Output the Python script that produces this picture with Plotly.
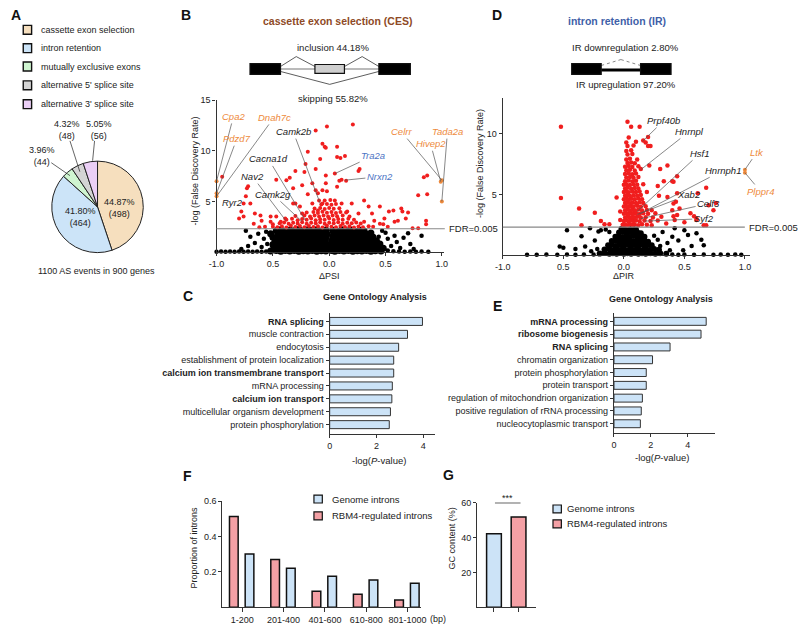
import plotly.graph_objects as go

W, H = 800, 627
FONT = "Liberation Sans, Arial, sans-serif"

# ---------------- data ----------------
pie_labels = ["cassette exon selection", "intron retention", "mutually exclusive exons",
              "alternative 5' splice site", "alternative 3' splice site"]
pie_counts = [498, 464, 44, 48, 56]
pie_pct = ["44.87%", "41.80%", "3.96%", "4.32%", "5.05%"]
pie_colors = ["#F6DFBE", "#CCE4F8", "#CFF5D0", "#D4D4D4", "#EBCFF6"]

go_ces_terms = ["RNA splicing", "muscle contraction", "endocytosis",
                "establishment of protein localization", "calcium ion transmembrane transport",
                "mRNA processing", "calcium ion transport",
                "multicellular organism development", "protein phosphorylation"]
go_ces_values = [3.97, 3.33, 2.95, 2.74, 2.74, 2.68, 2.66, 2.6, 2.55]
go_ces_bold = [True, False, False, False, True, False, True, False, False]

go_ir_terms = ["mRNA processing", "ribosome biogenesis", "RNA splicing",
               "chromatin organization", "protein phosphorylation", "protein transport",
               "regulation of mitochondrion organization",
               "positive regulation of rRNA processing", "nucleocytoplasmic transport"]
go_ir_values = [5.0, 4.72, 3.04, 2.09, 1.75, 1.75, 1.54, 1.48, 1.43]
go_ir_bold = [True, True, True, False, False, False, False, False, False]

length_bins = ["1-200", "201-400", "401-600", "610-800", "801-1000"]
rbm4_prop = [0.513, 0.27, 0.09, 0.073, 0.04]
genome_prop = [0.30, 0.22, 0.175, 0.153, 0.135]

gc_groups = ["Genome introns", "RBM4-regulated introns"]
gc_values = [42.3, 52.0]

# volcano CES (dPSI, -log FDR): dense non-significant core, sparse outliers, significant points
ces_black_core = [
    (-0.47, 2.1), (-0.43, 2.2), (-0.39, 2.05), (-0.35, 2.18), (-0.31, 2.1), (-0.27, 2.22), (-0.23, 2.08),
    (-0.19, 2.2), (-0.15, 2.12), (-0.11, 2.2), (-0.07, 2.06), (-0.03, 2.18), (0.03, 2.15), (0.07, 2.05),
    (0.11, 2.2), (0.15, 2.1), (0.19, 2.18), (0.23, 2.04), (0.27, 2.15), (0.31, 2.08),
    (-0.52, 1.8), (-0.45, 1.88), (-0.41, 1.75), (-0.37, 1.85), (-0.33, 1.78), (-0.29, 1.9), (-0.25, 1.76),
    (-0.21, 1.86), (-0.17, 1.8), (-0.13, 1.9), (-0.09, 1.74), (-0.05, 1.84), (-0.02, 1.78), (0.04, 1.86),
    (0.08, 1.76), (0.12, 1.88), (0.16, 1.8), (0.2, 1.9), (0.24, 1.75), (0.28, 1.85), (0.33, 1.78), (0.37, 1.88),
    (-0.5, 1.45), (-0.46, 1.52), (-0.42, 1.4), (-0.38, 1.5), (-0.34, 1.42), (-0.3, 1.55), (-0.26, 1.4),
    (-0.22, 1.5), (-0.18, 1.44), (-0.14, 1.54), (-0.1, 1.4), (-0.06, 1.48), (-0.03, 1.42), (0.03, 1.5),
    (0.06, 1.4), (0.1, 1.52), (0.14, 1.44), (0.18, 1.55), (0.22, 1.4), (0.26, 1.5), (0.3, 1.43), (0.34, 1.52),
    (0.39, 1.45),
    (-0.48, 1.1), (-0.44, 1.18), (-0.4, 1.05), (-0.36, 1.15), (-0.32, 1.08), (-0.28, 1.2), (-0.24, 1.05),
    (-0.2, 1.15), (-0.16, 1.1), (-0.12, 1.2), (-0.08, 1.05), (-0.04, 1.14), (0.02, 1.08), (0.05, 1.18),
    (0.09, 1.05), (0.13, 1.15), (0.17, 1.1), (0.21, 1.2), (0.25, 1.06), (0.29, 1.15), (0.33, 1.08),
    (0.37, 1.18), (0.42, 1.1),
    (-0.5, 0.75), (-0.46, 0.82), (-0.42, 0.7), (-0.38, 0.8), (-0.34, 0.72), (-0.3, 0.85), (-0.26, 0.7),
    (-0.22, 0.8), (-0.18, 0.74), (-0.14, 0.84), (-0.1, 0.7), (-0.06, 0.78), (-0.02, 0.72), (0.03, 0.8),
    (0.07, 0.7), (0.11, 0.82), (0.15, 0.74), (0.19, 0.85), (0.23, 0.7), (0.27, 0.8), (0.31, 0.73),
    (0.35, 0.82), (0.4, 0.75), (0.45, 0.8),
    (-0.49, 0.4), (-0.45, 0.48), (-0.41, 0.35), (-0.37, 0.45), (-0.33, 0.38), (-0.29, 0.5), (-0.25, 0.35),
    (-0.21, 0.45), (-0.17, 0.4), (-0.13, 0.5), (-0.09, 0.35), (-0.05, 0.44), (-0.02, 0.38), (0.02, 0.46),
    (0.06, 0.36), (0.1, 0.48), (0.14, 0.4), (0.18, 0.5), (0.22, 0.35), (0.26, 0.45), (0.3, 0.38),
    (0.34, 0.48), (0.38, 0.4), (0.43, 0.45), (0.48, 0.38),
    (-0.52, 0.1), (-0.47, 0.15), (-0.43, 0.08), (-0.39, 0.14), (-0.35, 0.1), (-0.31, 0.16), (-0.27, 0.08),
    (-0.23, 0.13), (-0.19, 0.1), (-0.15, 0.16), (-0.11, 0.08), (-0.07, 0.12), (-0.03, 0.1), (0.02, 0.14),
    (0.05, 0.08), (0.09, 0.15), (0.13, 0.1), (0.17, 0.16), (0.21, 0.08), (0.25, 0.13), (0.29, 0.1),
    (0.33, 0.15), (0.37, 0.08), (0.41, 0.12), (0.46, 0.1),
]
ces_black_sparse = [
    (0.52, 0.14), (0.57, 0.08),
    (-1.0, 0.03), (-0.96, 0.04), (-0.92, 0.03), (-0.88, 0.05), (-0.84, 0.03), (-0.8, 0.04), (-0.76, 0.03),
    (-0.72, 0.05), (-0.68, 0.03), (-0.64, 0.04), (-0.6, 0.03), (-0.56, 0.05), (0.62, 0.04), (0.67, 0.03),
    (0.72, 0.05), (0.77, 0.03), (0.82, 0.04), (0.88, 0.03),
    (-0.74, 2.1), (-0.7, 1.5), (-0.66, 0.9), (-0.63, 1.8), (-0.6, 0.5), (-0.58, 1.3), (-0.56, 2.0),
    (-0.55, 0.8), (-0.72, 0.6), (-0.78, 0.3), (0.5, 1.9), (0.52, 1.3), (0.55, 0.6), (0.58, 1.6), (0.6, 1.0),
    (0.63, 0.4), (0.66, 1.4), (0.7, 1.85), (0.72, 0.8), (0.82, 1.6), (0.75, 0.3), (0.47, 2.1), (0.44, 1.5),
]
ces_red = [
    (-0.5, 2.5), (-0.46, 2.45), (-0.42, 2.55), (-0.38, 2.42), (-0.34, 2.6), (-0.3, 2.48), (-0.26, 2.56),
    (-0.22, 2.44), (-0.18, 2.58), (-0.14, 2.46), (-0.1, 2.55), (-0.06, 2.43), (-0.02, 2.6), (0.02, 2.5),
    (0.06, 2.44), (0.1, 2.58), (0.14, 2.46), (0.18, 2.55), (0.22, 2.43), (0.26, 2.52), (0.3, 2.45), (0.35, 2.55),
    (-0.44, 2.85), (-0.4, 2.92), (-0.36, 2.8), (-0.32, 2.9), (-0.28, 2.82), (-0.24, 2.95), (-0.2, 2.8),
    (-0.16, 2.9), (-0.12, 2.84), (-0.08, 2.95), (-0.04, 2.8), (0.0, 2.9), (0.04, 2.83), (0.08, 2.94),
    (0.12, 2.8), (0.16, 2.9), (0.2, 2.84), (0.24, 2.92), (0.28, 2.82),
    (-0.38, 3.2), (-0.33, 3.28), (-0.28, 3.15), (-0.24, 3.25), (-0.2, 3.18), (-0.16, 3.3), (-0.12, 3.15),
    (-0.08, 3.24), (-0.04, 3.18), (0.0, 3.3), (0.04, 3.16), (0.08, 3.26), (0.12, 3.18), (0.17, 3.28), (0.22, 3.2),
    (-0.3, 3.55), (-0.22, 3.6), (-0.17, 3.5), (-0.13, 3.62), (-0.09, 3.52), (-0.05, 3.6), (-0.01, 3.5),
    (0.03, 3.62), (0.07, 3.54), (0.12, 3.6), (0.18, 3.52),
    (-0.2, 3.9), (-0.14, 3.95), (-0.1, 3.85), (-0.06, 3.98), (-0.02, 3.88), (0.02, 3.95), (0.06, 3.86),
    (0.1, 3.96), (0.15, 3.9),
    (-0.13, 4.3), (-0.08, 4.35), (-0.04, 4.25), (0.0, 4.36), (0.04, 4.28), (0.09, 4.32),
    (-0.07, 4.7), (-0.02, 4.75), (0.02, 4.68), (0.06, 4.75), (-0.04, 5.1), (0.01, 5.15),
    (0.21, 12.6), (-0.02, 12.4), (-0.12, 12.0), (-0.06, 10.7), (-0.04, 10.4), (-0.03, 10.3), (0.07, 10.4),
    (0.07, 9.4), (0.1, 9.3), (0.14, 9.5), (-0.19, 9.9), (-0.08, 9.2), (-0.21, 8.7), (-0.3, 8.0),
    (0.05, 7.75), (0.26, 8.0), (0.27, 8.2), (0.15, 7.05), (0.09, 7.05), (0.11, 7.15), (-0.03, 7.55),
    (-0.03, 6.8), (-0.38, 7.1), (-0.47, 7.15), (-0.35, 7.35), (-0.22, 7.9), (-0.12, 8.2), (-0.72, 6.5),
    (-0.95, 7.45), (-0.06, 6.1), (-0.12, 6.1), (-0.15, 6.8), (-0.24, 6.6), (-0.32, 6.3), (-0.02, 6.0),
    (0.07, 6.45), (-0.19, 5.7), (-0.1, 5.8), (0.05, 5.1), (0.11, 4.8), (0.2, 4.8), (0.16, 4.0), (0.26, 3.8),
    (0.31, 3.0), (0.31, 5.1), (0.35, 4.5), (0.45, 4.5), (0.53, 4.0), (0.57, 4.1), (0.64, 4.3), (0.65, 4.0),
    (0.7, 3.9), (0.38, 3.8), (0.49, 3.3), (0.48, 2.75), (0.39, 2.5), (0.61, 3.1), (0.68, 3.3), (0.58, 3.0),
    (0.74, 2.35), (0.79, 2.35), (0.86, 3.1), (0.86, 2.75), (0.79, 5.6), (0.87, 5.7), (0.84, 7.4), (0.87, 7.55),
    (0.4, 3.1), (0.45, 2.8), (0.52, 2.5),
    (-0.73, 6.3), (-0.74, 5.5), (-0.76, 4.8), (-0.7, 4.8), (-0.78, 4.0), (-0.8, 3.3), (-0.76, 3.5),
    (-0.66, 3.8), (-0.61, 3.6), (-0.6, 3.1), (-0.52, 3.5), (-0.52, 3.0), (-0.47, 3.5), (-0.43, 3.0),
    (-0.67, 2.8), (-0.57, 2.5), (-0.5, 2.75), (-0.62, 2.45), (-0.32, 4.8), (-0.3, 4.8), (-0.26, 4.5),
    (-0.24, 3.8), (-0.39, 3.3), (-0.15, 4.8), (-0.09, 5.1), (-0.06, 4.8), (-0.1, 4.1),
]
ces_orange = [(-1.0, 7.0), (-1.0, 5.8), (-1.0, 5.5), (1.0, 7.1), (0.99, 6.95), (1.0, 5.0)]

# volcano IR (dPIR, -log FDR)
ir_black_core = [
    (-0.02, 2.15), (0.01, 2.2), (0.04, 2.12), (0.07, 2.2), (0.1, 2.1),
    (-0.04, 1.85), (-0.01, 1.9), (0.02, 1.8), (0.05, 1.9), (0.08, 1.82), (0.11, 1.88), (0.14, 1.8),
    (-0.07, 1.5), (-0.04, 1.55), (-0.01, 1.45), (0.02, 1.55), (0.05, 1.48), (0.08, 1.56), (0.11, 1.46),
    (0.14, 1.54), (0.17, 1.5),
    (-0.1, 1.15), (-0.07, 1.2), (-0.04, 1.1), (-0.01, 1.2), (0.02, 1.12), (0.05, 1.2), (0.08, 1.1),
    (0.11, 1.18), (0.14, 1.12), (0.17, 1.2), (0.2, 1.1),
    (-0.13, 0.8), (-0.1, 0.85), (-0.07, 0.75), (-0.04, 0.85), (-0.01, 0.78), (0.02, 0.86), (0.05, 0.76),
    (0.08, 0.84), (0.11, 0.78), (0.14, 0.86), (0.17, 0.76), (0.2, 0.84), (0.23, 0.8),
    (-0.16, 0.45), (-0.12, 0.5), (-0.09, 0.4), (-0.06, 0.5), (-0.03, 0.42), (0.0, 0.5), (0.03, 0.4),
    (0.06, 0.48), (0.09, 0.42), (0.12, 0.5), (0.15, 0.4), (0.18, 0.48), (0.21, 0.42), (0.25, 0.5), (0.29, 0.44),
    (-0.2, 0.12), (-0.16, 0.16), (-0.12, 0.1), (-0.09, 0.15), (-0.06, 0.1), (-0.03, 0.16), (0.0, 0.1),
    (0.03, 0.15), (0.06, 0.1), (0.09, 0.16), (0.12, 0.1), (0.15, 0.14), (0.18, 0.1), (0.22, 0.15),
    (0.26, 0.1), (0.3, 0.14), (0.35, 0.1),
]
ir_black_sparse = [
    (-0.47, 2.05), (-0.53, 0.7), (-0.5, 0.6), (-0.4, 0.5), (-0.35, 1.55), (-0.28, 2.2), (-0.32, 0.7),
    (-0.24, 1.2), (-0.21, 1.95), (-0.19, 2.05), (-0.27, 0.3), (-0.22, 0.5), (0.42, 2.2), (0.5, 2.05),
    (0.53, 1.65), (0.6, 1.8), (0.64, 1.25), (0.66, 0.8), (0.56, 0.75), (0.49, 0.4), (0.36, 1.0), (0.38, 0.4),
    (0.28, 1.25), (0.3, 0.75), (0.22, 0.8), (0.25, 1.6), (0.32, 1.9), (0.45, 1.2), (0.4, 1.5), (-0.12, 1.9),
    (-0.15, 2.1), (-0.8, 0.03), (-0.72, 0.03), (-0.64, 0.04), (-0.55, 0.03), (-0.47, 0.04), (-0.4, 0.03),
    (-0.33, 0.05), (-0.25, 0.04), (0.4, 0.05), (0.45, 0.03), (0.5, 0.04), (0.58, 0.03), (0.66, 0.04),
    (0.74, 0.03), (0.8, 0.04), (0.86, 0.03), (0.92, 0.04), (0.97, 0.03),
]
ir_red = [
    (0.01, 2.5), (0.03, 2.45), (0.05, 2.55), (0.07, 2.48), (0.09, 2.52), (0.12, 2.45), (0.15, 2.55), (0.19, 2.5),
    (0.23, 2.46), (0.0, 2.8), (0.02, 2.85), (0.04, 2.78), (0.06, 2.84), (0.08, 2.8), (0.1, 2.86), (0.13, 2.78),
    (0.17, 2.84), (0.22, 2.8), (0.28, 2.85), (0.01, 3.1), (0.03, 3.15), (0.05, 3.08), (0.07, 3.14), (0.09, 3.1),
    (0.11, 3.16), (0.14, 3.08), (0.18, 3.12), (0.24, 3.1), (0.31, 3.15), (0.0, 3.4), (0.02, 3.45), (0.04, 3.38),
    (0.06, 3.44), (0.08, 3.4), (0.1, 3.46), (0.13, 3.38), (0.16, 3.44), (0.2, 3.4), (0.26, 3.45),
    (0.01, 3.7), (0.03, 3.75), (0.05, 3.68), (0.07, 3.74), (0.09, 3.7), (0.12, 3.76), (0.15, 3.68),
    (0.19, 3.72), (0.23, 3.7), (0.0, 4.0), (0.02, 4.05), (0.04, 3.98), (0.06, 4.04), (0.08, 4.0), (0.11, 4.06),
    (0.14, 3.98), (0.18, 4.02), (0.01, 4.3), (0.03, 4.35), (0.05, 4.28), (0.07, 4.34), (0.1, 4.3), (0.13, 4.36),
    (0.16, 4.3), (0.0, 4.6), (0.02, 4.65), (0.04, 4.58), (0.06, 4.64), (0.09, 4.6), (0.12, 4.66), (0.15, 4.6),
    (0.01, 4.9), (0.03, 4.95), (0.05, 4.88), (0.08, 4.94), (0.11, 4.9), (0.14, 4.95), (0.0, 5.2), (0.02, 5.25),
    (0.04, 5.18), (0.07, 5.24), (0.1, 5.2), (0.13, 5.25), (0.19, 5.2), (0.01, 5.5), (0.03, 5.55), (0.06, 5.48),
    (0.09, 5.54), (0.12, 5.5), (0.0, 5.8), (0.02, 5.85), (0.05, 5.78), (0.08, 5.84), (0.11, 5.8), (0.16, 5.85),
    (0.01, 6.1), (0.04, 6.15), (0.07, 6.08), (0.1, 6.14), (0.02, 6.4), (0.05, 6.45), (0.08, 6.38), (0.12, 6.44),
    (0.01, 6.7), (0.04, 6.75), (0.07, 6.68), (0.1, 6.74), (0.02, 7.0), (0.05, 7.05), (0.09, 6.98),
    (0.01, 7.3), (0.04, 7.35), (0.07, 7.28), (0.12, 7.34), (0.03, 7.6), (0.06, 7.65), (0.09, 7.58),
    (0.02, 7.9), (0.05, 7.95), (0.11, 7.9), (0.03, 8.3), (0.07, 8.35), (0.02, 8.6), (0.06, 8.65),
    (0.03, 9.0), (0.08, 9.05), (0.02, 9.3), (0.1, 9.35), (0.04, 9.7),
    (0.03, 11.0), (0.06, 10.6), (0.13, 10.6), (0.16, 9.45), (0.18, 9.3), (0.2, 9.0), (0.22, 9.0), (0.2, 9.75),
    (0.14, 7.1), (0.21, 7.4), (0.36, 7.4), (0.44, 6.5), (0.4, 6.1), (0.33, 6.1), (0.28, 5.7), (0.29, 4.9),
    (0.36, 4.8), (0.41, 4.25), (0.44, 5.1), (0.4, 3.7), (0.46, 3.85), (0.44, 3.3), (0.42, 2.9), (0.55, 3.45),
    (0.58, 3.2), (0.6, 3.0), (0.66, 2.45), (0.68, 5.55), (0.61, 5.1), (0.7, 4.1), (0.76, 4.3), (0.74, 3.7),
    (0.6, 2.9), (0.68, 2.45), (0.43, 4.4), (0.41, 6.05), (0.3, 7.1), (0.41, 3.2), (0.35, 2.6), (0.5, 2.7),
    (-0.52, 10.6), (-0.52, 4.7), (-0.37, 3.85), (-0.24, 3.5), (-0.35, 2.45), (-0.19, 2.8), (-0.16, 2.55),
    (-0.12, 2.55), (-0.06, 4.75), (-0.03, 3.6), (-0.03, 2.9), (-0.01, 2.5),
]
ir_orange = [(1.0, 7.05), (1.0, 6.8)]

# gene labels: name, point x, point y, label x, label y, colour
ces_genes = [
    ("Cpa2", -1.0, 7.0, -0.85, 13.4, "#EE8A3C"),
    ("Pdzd7", -1.0, 5.8, -0.82, 11.2, "#EE8A3C"),
    ("Dnah7c", -1.0, 5.5, -0.49, 13.3, "#EE8A3C"),
    ("Nav2", -0.385, 3.1, -0.68, 7.45, "#222222"),
    ("Cacna1d", -0.21, 3.1, -0.54, 9.2, "#222222"),
    ("Camk2g", -0.24, 3.0, -0.5, 5.7, "#222222"),
    ("Camk2b", -0.08, 4.8, -0.32, 11.9, "#222222"),
    ("Tra2a", 0.05, 7.75, 0.39, 9.5, "#4D74C4"),
    ("Nrxn2", 0.14, 7.1, 0.45, 7.45, "#4D74C4"),
    ("Celrr", 1.0, 7.1, 0.64, 11.9, "#EE8A3C"),
    ("Hivep2", 0.99, 6.95, 0.9, 10.7, "#EE8A3C"),
    ("Tada2a", 1.0, 5.0, 1.05, 11.9, "#EE8A3C"),
]
ir_genes = [
    ("Prpf40b", 0.155, 9.4, 0.33, 11.1, "#222222"),
    ("Hnrnpl", 0.14, 7.05, 0.54, 10.2, "#222222"),
    ("Hsf1", 0.11, 3.6, 0.63, 8.4, "#222222"),
    ("Hnrnph1", 0.13, 3.4, 0.82, 7.0, "#222222"),
    ("Xab2", 0.11, 3.35, 0.54, 5.0, "#222222"),
    ("Celf3", 0.14, 3.0, 0.7, 4.25, "#222222"),
    ("Syf2", 0.17, 2.8, 0.66, 3.0, "#222222"),
    ("Ltk", 1.0, 7.05, 1.1, 8.5, "#EE8A3C"),
    ("Plppr4", 1.0, 6.8, 1.13, 5.25, "#EE8A3C"),
]
fdr_cut = 2.3

BLUE = "#CCE3F7"
PINK = "#F4A0A5"


def px(x):
    return x / W


def py(y):
    return 1 - y / H


def xs(pts):
    return [p[0] for p in pts]


def ys(pts):
    return [p[1] for p in pts]


fig = go.Figure()

# A: pie
fig.add_trace(go.Pie(
    values=pie_counts, labels=pie_labels, sort=False, direction="clockwise", rotation=0,
    marker=dict(colors=pie_colors, line=dict(color="#222", width=1)),
    textinfo="none", hoverinfo="skip", showlegend=False,
    domain=dict(x=[px(44.5), px(137.5)], y=[py(250), py(157)]),
))

# B / D volcano plots
for pts, col, size, ax in [
    (ces_black_core, "#000000", 7, "x"), (ces_black_sparse, "#000000", 4.5, "x"),
    (ces_red, "#F01E1E", 4, "x"), (ces_orange, "#EE8A3C", 4, "x"),
    (ir_black_core, "#000000", 6, "x2"), (ir_black_sparse, "#000000", 4.5, "x2"),
    (ir_red, "#F01E1E", 4.5, "x2"), (ir_orange, "#EE8A3C", 4, "x2"),
]:
    fig.add_trace(go.Scatter(
        x=xs(pts), y=ys(pts), mode="markers", cliponaxis=False, hoverinfo="skip", showlegend=False,
        marker=dict(color=col, size=size, line=dict(width=0)),
        xaxis=ax, yaxis="y" if ax == "x" else "y2",
    ))

# C / E GO bars
fig.add_trace(go.Bar(
    x=go_ces_values, y=go_ces_terms, orientation="h", width=0.62,
    marker=dict(color=BLUE, line=dict(color="#333", width=1)),
    xaxis="x3", yaxis="y3", showlegend=False, hoverinfo="skip",
))
fig.add_trace(go.Bar(
    x=go_ir_values, y=go_ir_terms, orientation="h", width=0.62,
    marker=dict(color=BLUE, line=dict(color="#333", width=1)),
    xaxis="x4", yaxis="y4", showlegend=False, hoverinfo="skip",
))

# F intron length
fig.add_trace(go.Bar(
    x=length_bins, y=rbm4_prop, offset=-0.31, width=0.21,
    marker=dict(color=PINK, line=dict(color="#111", width=1.5)),
    xaxis="x5", yaxis="y5", showlegend=False, hoverinfo="skip",
))
fig.add_trace(go.Bar(
    x=length_bins, y=genome_prop, offset=0.07, width=0.21,
    marker=dict(color=BLUE, line=dict(color="#111", width=1.5)),
    xaxis="x5", yaxis="y5", showlegend=False, hoverinfo="skip",
))

# G GC content
fig.add_trace(go.Bar(
    x=gc_groups, y=gc_values, width=0.6,
    marker=dict(color=[BLUE, PINK], line=dict(color="#111", width=1.5)),
    xaxis="x6", yaxis="y6", showlegend=False, hoverinfo="skip",
))

axis_style = dict(showline=True, linecolor="#333", linewidth=1.3, ticks="outside", ticklen=3,
                  tickcolor="#333", showgrid=False, zeroline=False,
                  tickfont=dict(size=9, color="#222", family=FONT))

ces_ticktext = [f"<b>{t}</b>" if b else t for t, b in zip(go_ces_terms, go_ces_bold)]
ir_ticktext = [f"<b>{t}</b>" if b else t for t, b in zip(go_ir_terms, go_ir_bold)]

fig.update_layout(
    width=W, height=H, autosize=False, margin=dict(l=0, r=0, t=0, b=0),
    paper_bgcolor="white", plot_bgcolor="white", font=dict(family=FONT, size=9, color="#222"),
    barmode="overlay", hovermode=False,
    xaxis=dict(axis_style, domain=[px(212), px(443.3)], range=[-1.0, 1.02], anchor="y",
               tickvals=[-1, -0.5, 0, 0.5, 1], ticktext=["-1.0", "0.5", "0.0", "0.5", "1.0"]),
    yaxis=dict(axis_style, domain=[py(249), py(96)], range=[0, 15], anchor="x", tickvals=[5, 10, 15]),
    xaxis2=dict(axis_style, domain=[px(503), px(754)], range=[-1.0, 1.04], anchor="y2",
                tickvals=[-1, -0.5, 0, 0.5, 1], ticktext=["-1.0", "0.5", "0.0", "0.5", "1.0"]),
    yaxis2=dict(axis_style, domain=[py(252), py(93.4)], range=[0, 13], anchor="x2", tickvals=[5, 10]),
    xaxis3=dict(axis_style, domain=[px(327), px(433.9)], range=[0, 4.5], anchor="y3", tickvals=[0, 2, 4]),
    yaxis3=dict(axis_style, domain=[py(432), py(310)], range=[8.69, -0.69], anchor="x3",
                type="category", categoryarray=go_ces_terms, tickvals=go_ces_terms, ticktext=ces_ticktext),
    xaxis4=dict(axis_style, domain=[px(616), px(719.1)], range=[0, 5.5], anchor="y4", tickvals=[0, 2, 4]),
    yaxis4=dict(axis_style, domain=[py(431), py(310)], range=[8.69, -0.69], anchor="x4",
                type="category", categoryarray=go_ir_terms, tickvals=go_ir_terms, ticktext=ir_ticktext),
    xaxis5=dict(axis_style, domain=[px(218), px(420)], range=[-0.48, 4.33], anchor="y5",
                type="category", categoryarray=length_bins, ticklen=4),
    yaxis5=dict(axis_style, domain=[py(607), py(500)], range=[0, 0.6], anchor="x5",
                tickvals=[0.2, 0.4, 0.6], ticktext=["0.2", "0.4", "0.6"]),
    xaxis6=dict(axis_style, domain=[px(477), px(537)], range=[-0.68, 1.72], anchor="y6",
                type="category", categoryarray=gc_groups, showticklabels=False, ticklen=4),
    yaxis6=dict(axis_style, domain=[py(607), py(502)], range=[0, 60], anchor="x6", tickvals=[20, 40, 60]),
)

ann = []
shapes = []


def text(x, y, s, size=9, color="#222", xanchor="center", angle=0, bold=False):
    if bold:
        s = f"<b>{s}</b>"
    ann.append(dict(x=px(x), y=py(y), xref="paper", yref="paper", text=s, showarrow=False,
                    xanchor=xanchor, yanchor="middle", textangle=angle,
                    font=dict(size=size, color=color, family=FONT)))


def line(x0, y0, x1, y1, color="#222", width=1, dash=None):
    shapes.append(dict(type="line", xref="paper", yref="paper", x0=px(x0), y0=py(y0), x1=px(x1), y1=py(y1),
                       line=dict(color=color, width=width, dash=dash)))


def rect(x0, y0, x1, y1, fill, color="#111", width=1.2):
    shapes.append(dict(type="rect", xref="paper", yref="paper", x0=px(x0), y0=py(y0), x1=px(x1), y1=py(y1),
                       fillcolor=fill, line=dict(color=color, width=width)))


# panel letters
for letter, x, y in [("A", 8, 10), ("B", 181, 10), ("D", 497, 10), ("C", 183, 293),
                     ("E", 498, 303), ("F", 182, 475), ("G", 448, 474)]:
    text(x, y, letter, size=14, color="#111", bold=True)

# A legend and labels
for i, (lab, col) in enumerate(zip(pie_labels, pie_colors)):
    yy = [25, 43.5, 62, 81, 100][i]
    rect(15.5, yy - 4.5, 24, yy + 4.5, col, width=1.4)
    text(32, yy, lab, xanchor="left")
text(113, 205, f"{pie_pct[0]}<br>({pie_counts[0]})")
text(74, 214, f"{pie_pct[1]}<br>({pie_counts[1]})")
text(35, 152, f"{pie_pct[2]}<br>({pie_counts[2]})")
text(60, 126, f"{pie_pct[3]}<br>({pie_counts[3]})")
text(92, 126, f"{pie_pct[4]}<br>({pie_counts[4]})")
line(63, 137, 73, 168, width=0.7)
line(88, 137, 86, 157, width=0.7)
line(44, 159, 63, 172, width=0.7)
text(90, 268, "1100 AS events in 900 genes")

# B header and diagram
text(335, 16, "cassette exon selection (CES)", size=10.5, color="#8E4A26", bold=True)
text(330, 43, "inclusion 44.18%", size=9.5)
text(330, 94, "skipping 55.82%", size=9.5)
line(277, 64.5, 377, 64.5, color="#777", width=1.2)
for seg in [(277, 62, 293, 52), (293, 52, 312, 62), (342, 62, 360, 52), (360, 52, 377, 62),
            (277, 67, 327, 80), (327, 80, 377, 67)]:
    line(*seg, color="#333", width=0.8)
rect(246, 59, 277, 70, "#000")
rect(312, 60, 342, 69, "#CFCFCF", width=1.2)
rect(377, 59, 409, 70, "#000")

# D header and diagram
text(619, 16, "intron retention (IR)", size=10.5, color="#3F5FA8", bold=True)
text(628, 43, "IR downregulation 2.80%", size=9.5)
text(628, 80, "IR upregulation 97.20%", size=9.5)
line(603, 65.5, 643, 65.5, color="#000", width=3)
line(603, 61, 623, 55, color="#555", width=0.7, dash="dot")
line(623, 55, 643, 61, color="#555", width=0.7, dash="dot")
rect(573, 59, 603, 70, "#000")
rect(643, 59, 674, 70, "#000")

# FDR thresholds
shapes.append(dict(type="line", xref="paper", yref="y", x0=px(212), x1=px(444), y0=fdr_cut, y1=fdr_cut,
                   line=dict(color="#888", width=1.2)))
shapes.append(dict(type="line", xref="paper", yref="y2", x0=px(503), x1=px(749), y0=fdr_cut, y1=fdr_cut,
                   line=dict(color="#888", width=1.2)))
for x0, yr in [(446, "y"), (751, "y2")]:
    ann.append(dict(x=px(x0), y=fdr_cut, xref="paper", yref=yr, text="FDR=0.005", showarrow=False,
                    xanchor="left", yanchor="middle", font=dict(size=9.5, color="#222", family=FONT)))

# volcano axis titles
text(190, 167, "-log (False Discovery Rate)", angle=-90)
text(327, 273, "ΔPSI")
text(480, 160, "-log (False Discovery Rate)", angle=-90)
text(626, 273, "ΔPIR")

# gene labels
for genes, xr, yr in [(ces_genes, "x", "y"), (ir_genes, "x2", "y2")]:
    for name, gx, gy, tx, ty, col in genes:
        ann.append(dict(x=gx, y=gy, xref=xr, yref=yr, ax=tx, ay=ty, axref=xr, ayref=yr,
                        text=f"<i>{name}</i>", showarrow=True, arrowhead=0, arrowwidth=0.7,
                        arrowcolor="#555", standoff=0, font=dict(size=9.5, color=col, family=FONT)))
ann.append(dict(x=-0.86, y=4.9, xref="x", yref="y", text="<i>Ryr2</i>", showarrow=False,
                font=dict(size=9.5, color="#222", family=FONT)))

# GO titles / axis titles
text(373, 294, "Gene Ontology Analysis", size=9, bold=True)
text(664, 296, "Gene Ontology Analysis", size=9, bold=True)
text(377, 459, "-log(<i>P</i>-value)", size=9.5)
text(665, 456, "-log(<i>P</i>-value)", size=9.5)

# F / G titles and legends
text(189, 547, "Proportion of introns", angle=-90)
text(437, 619, "(bp)")
text(451, 538, "GC content (%)", angle=-90)
rect(311, 494, 319.5, 502, BLUE)
text(327, 498, gc_groups[0], size=9.5, xanchor="left")
rect(311, 511, 319.5, 519, PINK)
text(327, 515, gc_groups[1], size=9.5, xanchor="left")
rect(554, 504, 562.5, 512, BLUE)
text(566, 508, gc_groups[0], size=9.5, xanchor="left")
rect(554, 519, 562.5, 527, PINK)
text(566, 523, gc_groups[1], size=9.5, xanchor="left")
line(495, 502, 521, 502, color="#999", width=1.5)
text(508, 497, "***", size=9)

fig.update_layout(annotations=ann, shapes=shapes)
fig.write_html("out.html", config={"displayModeBar": False},
               post_script="document.body.style.margin='0';document.body.style.overflow='hidden';")
